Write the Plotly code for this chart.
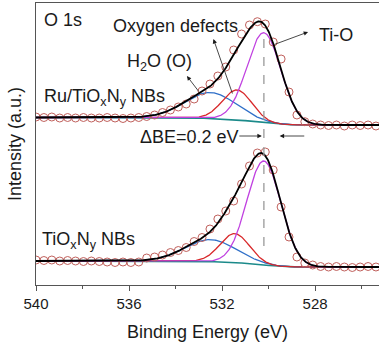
import numpy as np
import plotly.graph_objects as go

# ---- measured O 1s points (binding energy in eV, intensity in a.u. with stacking offset) ----
binding_energy = [
    540.00, 539.66, 539.32, 538.98, 538.64, 538.30, 537.96, 537.62, 537.28, 536.94,
    536.60, 536.26, 535.92, 535.58, 535.24, 534.90, 534.56, 534.22, 533.88, 533.54,
    533.20, 532.86, 532.52, 532.18, 531.84, 531.50, 531.16, 530.82, 530.48, 530.14,
    529.80, 529.46, 529.12, 528.78, 528.44, 528.10, 527.76, 527.42, 527.08, 526.74,
    526.40, 526.06, 525.72, 525.38,
]
ru_intensity = [
    168, 167.5, 168, 167, 167.5, 167, 167.5, 167, 167, 167.5,
    167, 166.5, 167, 167.5, 168.5, 170, 172.5, 175, 178, 181,
    186, 194, 201, 209, 218, 235, 251, 260, 263.3, 261,
    243, 226, 193, 170, 163.3, 161, 160, 159.5, 160, 159,
    160, 159.5, 160, 159,
]
bare_intensity = [
    25, 24.5, 25, 24, 24.5, 24, 23.5, 24, 23.5, 23,
    22.5, 23, 22.5, 23, 27, 28, 30, 32.5, 34.5, 37.5,
    43.5, 47.5, 56, 66, 74, 84, 101, 119, 132, 133,
    115, 78, 48, 28, 22, 20, 18.5, 18, 18.5, 18,
    17.5, 18, 18.5, 18,
]

# ---- fitted Gaussian components: H2O (O), oxygen defects, Ti-O ----
component_names = ["H2O (O)", "Oxygen defects", "Ti-O"]
component_colors = ["#2f6fc8", "#d8282a", "#c040e0"]
ru_centers = [532.50, 531.35, 530.20]
ru_fwhm = [2.6, 1.5, 1.72]
ru_amplitude = [26, 30, 90]
bare_centers = [532.50, 531.45, 530.20]
bare_fwhm = [2.6, 1.5, 1.72]
bare_amplitude = [22, 29, 104]

# background end levels (high-BE side, low-BE side)
ru_background_ends = [167.5, 160.0]
bare_background_ends = [24.0, 18.0]

FONT = "Arial, 'Liberation Sans', sans-serif"
INK = "#1a1a1a"
TEXT_SIZE = 18


def gaussian(e, center, fwhm, amp):
    d = (e - center) / fwhm
    return amp * np.exp(-4 * np.log(2) * d ** 2)


def shirley(e, peaks_total, high_side, low_side):
    # e runs from high to low binding energy; area is accumulated from the low-BE end
    cum = np.cumsum(peaks_total[::-1])[::-1]
    return low_side + (high_side - low_side) * cum / cum[0]


grid = np.linspace(540.0, 525.25, 700)
fig = go.Figure()


def add_spectrum(points, centers, fwhms, amps, ends):
    comps = [gaussian(grid, c, w, a) for c, w, a in zip(centers, fwhms, amps)]
    total = np.sum(comps, axis=0)
    bg = shirley(grid, total, *ends)
    fig.add_trace(go.Scatter(x=grid, y=bg, mode="lines",
                             line=dict(color="#1b8a8a", width=1.6), hoverinfo="skip"))
    for comp, col in zip(comps, component_colors):
        fig.add_trace(go.Scatter(x=grid, y=comp + bg, mode="lines",
                                 line=dict(color=col, width=1.3), hoverinfo="skip"))
    fig.add_trace(go.Scatter(x=binding_energy, y=points, mode="markers",
                             marker=dict(symbol="circle-open", size=8,
                                         color="#c0605c", line=dict(width=1))))
    fig.add_trace(go.Scatter(x=grid, y=total + bg, mode="lines",
                             line=dict(color="black", width=1.8), hoverinfo="skip"))


add_spectrum(ru_intensity, ru_centers, ru_fwhm, ru_amplitude, ru_background_ends)
add_spectrum(bare_intensity, bare_centers, bare_fwhm, bare_amplitude, bare_background_ends)

# dashed guide through the Ti-O position
ti_o_guide = (ru_centers[2] + bare_centers[2]) / 2
fig.add_trace(go.Scatter(x=[ti_o_guide, ti_o_guide], y=[246, 35], mode="lines",
                         line=dict(color="#9a9a9a", width=1.3, dash="dash"),
                         hoverinfo="skip"))

labels = [
    dict(text="O 1s", x=539.76, y=265, xanchor="left"),
    dict(text="Oxygen defects", x=534.0, y=259, xanchor="center"),
    dict(text="H<sub>2</sub>O (O)", x=534.7, y=223, xanchor="center"),
    dict(text="Ru/TiO<sub>x</sub>N<sub>y</sub> NBs", x=539.76, y=188, xanchor="left"),
    dict(text="Ti-O", x=527.91, y=250, xanchor="left"),
    dict(text="\u0394BE=0.2 eV", x=535.63, y=148, xanchor="left"),
    dict(text="TiO<sub>x</sub>N<sub>y</sub> NBs", x=539.83, y=45, xanchor="left"),
]
for lab in labels:
    fig.add_annotation(text=lab["text"], x=lab["x"], y=lab["y"], xref="x", yref="y",
                       xanchor=lab["xanchor"], yanchor="middle", showarrow=False,
                       font=dict(family=FONT, size=TEXT_SIZE, color=INK))

arrows = [
    ((533.51, 209), (532.95, 192)),   # H2O (O)
    ((532.37, 246), (531.53, 190)),   # oxygen defects
    ((528.30, 253), (529.81, 240)),   # Ti-O
    ((530.29, 149), (531.32, 149)),   # shift marker, left
    ((529.52, 149), (528.40, 149)),   # shift marker, right
]
for (hx, hy), (tx, ty) in arrows:
    fig.add_annotation(x=hx, y=hy, ax=tx, ay=ty, xref="x", yref="y", axref="x", ayref="y",
                       text="", showarrow=True, arrowhead=2, arrowsize=1.1,
                       arrowwidth=0.8, arrowcolor=INK)

fig.update_layout(
    width=379, height=349,
    margin=dict(l=36, r=0, t=3, b=64),
    paper_bgcolor="white", plot_bgcolor="white",
    showlegend=False,
    font=dict(family=FONT, color=INK),
)
fig.update_xaxes(
    range=[540, 525.25], tickvals=[540, 536, 532, 528],
    ticks="outside", ticklen=5, tickwidth=1, tickcolor="#555",
    minor=dict(tickvals=[538, 534, 530, 526], ticks="outside", ticklen=3, tickcolor="#555"),
    showline=True, linecolor="#555", linewidth=1, mirror=True,
    showgrid=False, zeroline=False,
    tickfont=dict(family=FONT, size=15, color=INK),
    title=dict(text="Binding Energy (eV)", font=dict(family=FONT, size=18, color=INK), standoff=14),
)
fig.update_yaxes(
    range=[0, 282], showticklabels=False, ticks="",
    showline=True, linecolor="#555", linewidth=1,
    showgrid=False, zeroline=False,
    title=dict(text="Intensity (a.u.)", font=dict(family=FONT, size=18, color=INK), standoff=8),
)

fig.write_html("out.html")
